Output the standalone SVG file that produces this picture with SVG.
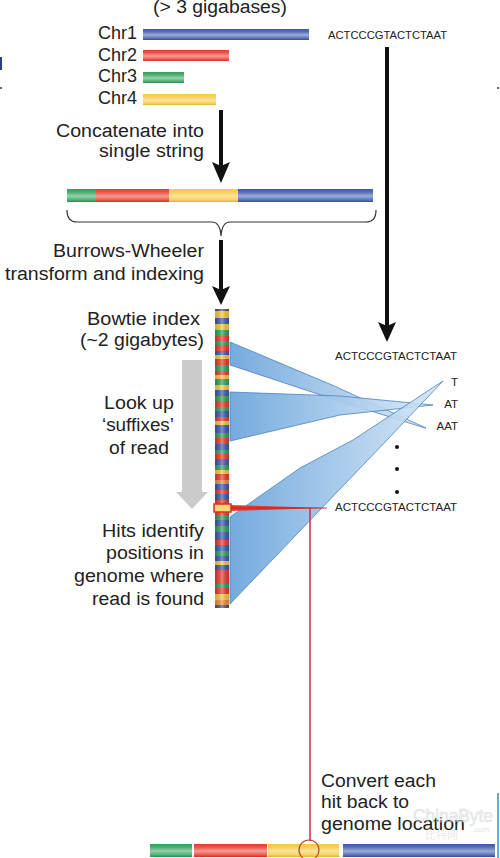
<svg xmlns="http://www.w3.org/2000/svg" width="500" height="858" viewBox="0 0 500 858">
<defs>
<style>
.lbl{font-family:"Liberation Sans",Arial,sans-serif;font-size:18px;fill:#222}
.seq{font-family:"Liberation Sans",Arial,sans-serif;font-size:11.5px;fill:#222}
.r{fill:#e8392b}.g{fill:#2ea05a}.b{fill:#3a58aa}.y{fill:#f8c840}.o{fill:#f08a40}.d{fill:#555}
.fan{fill:url(#fanGrad);stroke:#4a80c0;stroke-width:0.8;stroke-linejoin:round}
.arr{fill:#111}
</style>
<linearGradient id="shine" x1="0" y1="0" x2="0" y2="1">
<stop offset="0" stop-color="#fff" stop-opacity="0"/>
<stop offset="0.25" stop-color="#fff" stop-opacity="0.15"/>
<stop offset="0.55" stop-color="#fff" stop-opacity="0.5"/>
<stop offset="0.85" stop-color="#fff" stop-opacity="0.15"/>
<stop offset="1" stop-color="#000" stop-opacity="0.1"/>
</linearGradient>
<linearGradient id="colShine" x1="0" y1="0" x2="1" y2="0">
<stop offset="0" stop-color="#000" stop-opacity="0.12"/>
<stop offset="0.5" stop-color="#fff" stop-opacity="0.35"/>
<stop offset="1" stop-color="#000" stop-opacity="0.12"/>
</linearGradient>
<linearGradient id="fanGrad" x1="0" y1="0" x2="1" y2="0">
<stop offset="0" stop-color="#6ea6dc" stop-opacity="0.95"/>
<stop offset="1" stop-color="#d4e6f6" stop-opacity="0.9"/>
</linearGradient>
</defs>
<rect width="500" height="858" fill="#fff"/>

<!-- edge fragments -->
<rect x="0" y="57" width="2" height="13" fill="#2a3e8a"/>
<circle cx="1" cy="88" r="1" fill="#333"/>
<circle cx="498" cy="88" r="1" fill="#333"/>
<rect x="497" y="793" width="2" height="65" fill="#5ab0e0"/>

<!-- title -->
<g id="title"><text class="lbl" x="220" y="13" text-anchor="middle" textLength="134" lengthAdjust="spacingAndGlyphs">(&gt; 3 gigabases)</text></g>

<!-- chromosomes -->
<g id="chr1"><text class="lbl" x="137" y="39" text-anchor="end">Chr1</text>
<rect class="b" x="143" y="29" width="166" height="11"/><rect x="143" y="29" width="166" height="11" fill="url(#shine)"/></g>
<g id="chr2"><text class="lbl" x="137" y="61" text-anchor="end">Chr2</text>
<rect class="r" x="143" y="50" width="86" height="11"/><rect x="143" y="50" width="86" height="11" fill="url(#shine)"/></g>
<g id="chr3"><text class="lbl" x="137" y="82" text-anchor="end">Chr3</text>
<rect class="g" x="143" y="72" width="41" height="11"/><rect x="143" y="72" width="41" height="11" fill="url(#shine)"/></g>
<g id="chr4"><text class="lbl" x="137" y="104" text-anchor="end">Chr4</text>
<rect class="y" x="143" y="94" width="73" height="11"/><rect x="143" y="94" width="73" height="11" fill="url(#shine)"/></g>

<!-- read -->
<g id="read"><text class="seq" x="328" y="39" textLength="119" lengthAdjust="spacingAndGlyphs">ACTCCCGTACTCTAAT</text></g>

<!-- step labels -->
<g id="concat-label">
<text class="lbl" x="204" y="137" text-anchor="end" textLength="148" lengthAdjust="spacingAndGlyphs">Concatenate into</text>
<text class="lbl" x="204" y="157" text-anchor="end" textLength="105" lengthAdjust="spacingAndGlyphs">single string</text>
</g>

<!-- concatenated string -->
<g id="string">
<rect class="g" x="67" y="189" width="29" height="13"/>
<rect class="r" x="96" y="189" width="73" height="13"/>
<rect class="y" x="169" y="189" width="69" height="13"/>
<rect class="b" x="238" y="189" width="135" height="13"/>
<rect x="67" y="189" width="306" height="13" fill="url(#shine)"/>
<path d="M67,210 Q67,222 77,222 L212,222 Q220,222 221,236 Q222,222 230,222 L366,222 Q376,222 376,210" fill="none" stroke="#333" stroke-width="1.2"/>
</g>

<g id="bwt-label">
<text class="lbl" x="204" y="257" text-anchor="end" textLength="151" lengthAdjust="spacingAndGlyphs">Burrows-Wheeler</text>
<text class="lbl" x="204" y="280" text-anchor="end" textLength="199" lengthAdjust="spacingAndGlyphs">transform and indexing</text>
</g>

<g id="index-label">
<text class="lbl" x="200" y="325" text-anchor="end" textLength="113" lengthAdjust="spacingAndGlyphs">Bowtie index</text>
<text class="lbl" x="204" y="346" text-anchor="end" textLength="124" lengthAdjust="spacingAndGlyphs">(~2 gigabytes)</text>
</g>

<!-- gray arrow -->
<g id="lookup">
<rect x="182" y="360" width="20" height="133" fill="#cbcbcb"/>
<polygon points="176,492 208,492 192,509" fill="#cbcbcb"/>
<text class="lbl" x="139" y="409" text-anchor="middle" textLength="70" lengthAdjust="spacingAndGlyphs">Look up</text>
<text class="lbl" x="138" y="431" text-anchor="middle" textLength="72" lengthAdjust="spacingAndGlyphs">‘suffixes’</text>
<text class="lbl" x="139" y="454" text-anchor="middle" textLength="60" lengthAdjust="spacingAndGlyphs">of read</text>
</g>

<g id="hits-label">
<text class="lbl" x="204" y="537" text-anchor="end" textLength="102" lengthAdjust="spacingAndGlyphs">Hits identify</text>
<text class="lbl" x="204" y="559" text-anchor="end" textLength="98" lengthAdjust="spacingAndGlyphs">positions in</text>
<text class="lbl" x="204" y="582" text-anchor="end" textLength="130" lengthAdjust="spacingAndGlyphs">genome where</text>
<text class="lbl" x="204" y="605" text-anchor="end" textLength="112" lengthAdjust="spacingAndGlyphs">read is found</text>
</g>

<!-- connectors -->
<g id="connectors">
<rect x="219" y="110" width="4" height="56" class="arr"/>
<polygon class="arr" points="212,162 221,166 230,162 221,183"/>
<rect x="219" y="240" width="4" height="50" class="arr"/>
<polygon class="arr" points="212,286 221,290 230,286 221,305"/>
<rect x="385" y="47" width="4" height="280" class="arr"/>
<polygon class="arr" points="378,322 387,326 396,322 387,342"/>

<polygon class="fan" points="230,342 332,385 426,428 425,428 330,398 230,365"/>
<polygon class="fan" points="230,392 340,396 433,405 340,415 230,441"/>
<polygon class="fan" points="230,517 300,468 353,440 443,381 387,440 230,604"/>

<polygon points="229,505 327,508 229,511" fill="#e8392b"/>
<line x1="229" y1="508" x2="327" y2="508" stroke="#b02020" stroke-width="0.8"/>
<line x1="310" y1="508" x2="310" y2="841" stroke="#c0304a" stroke-width="1.5"/>
</g>

<!-- bowtie index column -->
<g id="index">
<rect class="d" x="215" y="309" width="14" height="2"/>
<rect class="y" x="215" y="311" width="14" height="7"/>
<rect class="b" x="215" y="318" width="14" height="6"/>
<rect class="y" x="215" y="324" width="14" height="6"/>
<rect class="g" x="215" y="330" width="14" height="6"/>
<rect class="r" x="215" y="336" width="14" height="5"/>
<rect class="g" x="215" y="341" width="14" height="4"/>
<rect class="r" x="215" y="345" width="14" height="6"/>
<rect class="b" x="215" y="351" width="14" height="4"/>
<rect class="y" x="215" y="355" width="14" height="4"/>
<rect class="r" x="215" y="359" width="14" height="6"/>
<rect class="g" x="215" y="365" width="14" height="6"/>
<rect class="r" x="215" y="371" width="14" height="4"/>
<rect class="y" x="215" y="375" width="14" height="4"/>
<rect class="g" x="215" y="379" width="14" height="6"/>
<rect class="y" x="215" y="385" width="14" height="5"/>
<rect class="b" x="215" y="390" width="14" height="6"/>
<rect class="g" x="215" y="396" width="14" height="5"/>
<rect class="r" x="215" y="401" width="14" height="6"/>
<rect class="g" x="215" y="407" width="14" height="4"/>
<rect class="b" x="215" y="411" width="14" height="6"/>
<rect class="r" x="215" y="417" width="14" height="4"/>
<rect class="y" x="215" y="421" width="14" height="4"/>
<rect class="b" x="215" y="425" width="14" height="8"/>
<rect class="g" x="215" y="433" width="14" height="5"/>
<rect class="r" x="215" y="438" width="14" height="6"/>
<rect class="b" x="215" y="444" width="14" height="6"/>
<rect class="g" x="215" y="450" width="14" height="4"/>
<rect class="r" x="215" y="454" width="14" height="5"/>
<rect class="b" x="215" y="459" width="14" height="6"/>
<rect class="g" x="215" y="465" width="14" height="5"/>
<rect class="y" x="215" y="470" width="14" height="4"/>
<rect class="r" x="215" y="474" width="14" height="6"/>
<rect class="o" x="215" y="480" width="14" height="4"/>
<rect class="b" x="215" y="484" width="14" height="6"/>
<rect class="r" x="215" y="490" width="14" height="4"/>
<rect class="b" x="215" y="494" width="14" height="6"/>
<rect class="r" x="215" y="500" width="14" height="5"/>
<rect class="y" x="215" y="505" width="14" height="6"/>
<rect class="r" x="215" y="511" width="14" height="4"/>
<rect class="g" x="215" y="515" width="14" height="5"/>
<rect class="b" x="215" y="520" width="14" height="6"/>
<rect class="g" x="215" y="526" width="14" height="6"/>
<rect class="b" x="215" y="532" width="14" height="8"/>
<rect class="r" x="215" y="540" width="14" height="5"/>
<rect class="b" x="215" y="545" width="14" height="6"/>
<rect class="g" x="215" y="551" width="14" height="5"/>
<rect class="b" x="215" y="556" width="14" height="5"/>
<rect class="y" x="215" y="561" width="14" height="4"/>
<rect class="b" x="215" y="565" width="14" height="5"/>
<rect class="r" x="215" y="570" width="14" height="14"/>
<rect class="g" x="215" y="584" width="14" height="4"/>
<rect class="r" x="215" y="588" width="14" height="6"/>
<rect class="y" x="215" y="594" width="14" height="6"/>
<rect class="o" x="215" y="600" width="14" height="5"/>
<rect class="d" x="215" y="605" width="14" height="3"/>
<rect x="215" y="309" width="14" height="299" fill="url(#colShine)"/>
<rect x="214" y="504" width="17" height="8" fill="#f6d878" stroke="#d83020" stroke-width="1.5"/>
</g>

<!-- suffix labels -->
<g id="suffixes">
<text class="seq" x="335" y="360" textLength="122" lengthAdjust="spacingAndGlyphs">ACTCCCGTACTCTAAT</text>
<text class="seq" x="458" y="386" text-anchor="end">T</text>
<text class="seq" x="458" y="408" text-anchor="end">AT</text>
<text class="seq" x="458" y="430" text-anchor="end">AAT</text>
<circle cx="397" cy="447" r="2" fill="#111"/>
<circle cx="397" cy="469" r="2" fill="#111"/>
<circle cx="397" cy="492" r="2" fill="#111"/>
<text class="seq" x="335" y="511" textLength="122" lengthAdjust="spacingAndGlyphs">ACTCCCGTACTCTAAT</text>
</g>

<!-- genome location -->
<g id="genome">
<rect class="g" x="150" y="844" width="42" height="13"/>
<rect class="r" x="194" y="844" width="73" height="13"/>
<rect class="y" x="268" y="844" width="71" height="13"/>
<rect class="b" x="343" y="844" width="152" height="13"/>
<rect x="150" y="844" width="345" height="13" fill="url(#shine)"/>
<circle cx="309" cy="850" r="10" fill="none" stroke="#b04a30" stroke-width="1.2"/>
</g>

<g id="convert-label">
<text class="lbl" x="321" y="787" textLength="115" lengthAdjust="spacingAndGlyphs">Convert each</text>
<text class="lbl" x="321" y="808" textLength="88" lengthAdjust="spacingAndGlyphs">hit back to</text>
<text class="lbl" x="321" y="830" textLength="144" lengthAdjust="spacingAndGlyphs">genome location</text>
</g>

<g id="watermark" opacity="0.55">
<text x="413" y="822" font-family="'Liberation Sans',Arial,sans-serif" font-size="18" fill="#e4e4e4" stroke="#c8c8c8" stroke-width="0.6" textLength="80" lengthAdjust="spacingAndGlyphs">ChinaByte</text>
<text x="472" y="832" font-family="'Liberation Sans',Arial,sans-serif" font-size="8" fill="#c8c8c8">.com</text>
<text x="425" y="839" font-family="'Noto Sans CJK SC',sans-serif" font-size="11" fill="#d8d8d8">比特网</text>
</g>
</svg>
